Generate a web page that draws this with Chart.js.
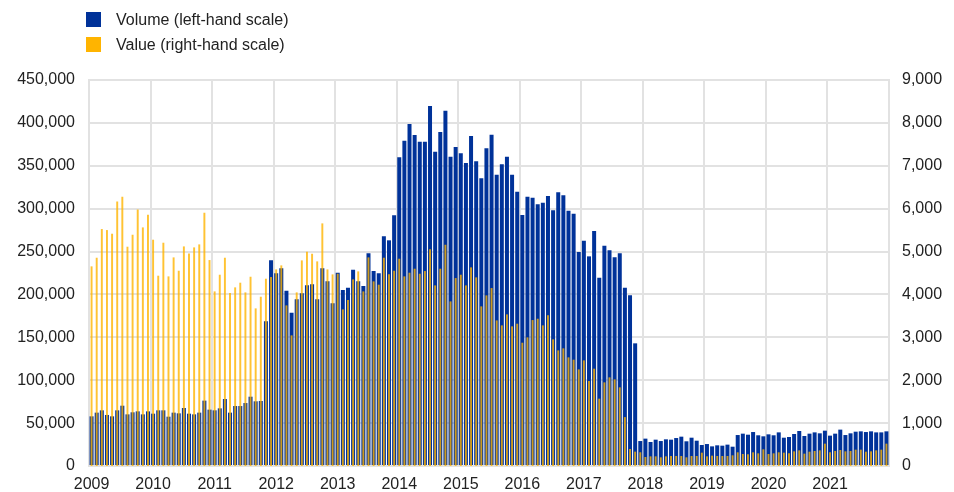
<!DOCTYPE html>
<html>
<head>
<meta charset="utf-8">
<script src="https://cdn.jsdelivr.net/npm/chart.js@4.4.0/dist/chart.umd.min.js"></script>
<style>
  body { margin: 0; background: #fff; font-family: "Liberation Sans", Arial, sans-serif; }
  #wrap { position: relative; width: 954px; height: 492px; }
  .legend { position: absolute; left: 86px; font-size: 16px; color: #222; line-height: 16px; }
  .legend span { display: inline-block; width: 15px; height: 15px; vertical-align: top; margin-right: 15px; }
</style>
</head>
<body>
<div id="wrap">
  <canvas id="chart"></canvas>
  <div class="legend" style="top:12px"><span style="background:#003299"></span>Volume (left-hand scale)</div>
  <div class="legend" style="top:37px"><span style="background:#ffb400"></span>Value (right-hand scale)</div>
</div>
<script>
// Monthly data, Jan 2009 - Dec 2021
const years = ['2009', '2010', '2011', '2012', '2013', '2014', '2015', '2016', '2017', '2018', '2019', '2020', '2021'];
const months = [];
years.forEach(y => { for (let m = 1; m <= 12; m++) months.push(y + '-' + String(m).padStart(2, '0')); });

// Volume, thousands (left-hand scale)
const volume = [
    57.9, 62.2, 64.9, 59.5, 57.9, 64.9, 70.3, 60.2, 62.6, 63.7, 60.2, 63.7,
    61.0, 64.9, 64.9, 57.5, 62.2, 61.4, 67.6, 61.0, 60.2, 62.2, 76.2, 65.7,
    64.9, 67.2, 78.1, 62.2, 69.9, 69.9, 73.4, 80.8, 75.4, 75.8, 168.7, 239.8,
    224.6, 230.4, 204.4, 178.8, 194.3, 201.3, 210.6, 211.8, 194.3, 230.4, 215.3, 189.6,
    225.4, 205.2, 207.9, 228.9, 215.3, 209.8, 247.9, 227.3, 224.6, 267.7, 263.1, 292.2,
    359.8, 379.3, 398.7, 385.9, 378.1, 378.1, 419.7, 366.4, 389.4, 414.2, 360.6, 371.9,
    364.5, 353.2, 384.7, 355.2, 335.4, 370.3, 386.3, 339.6, 351.7, 360.6, 339.6, 319.8,
    292.6, 314.0, 312.8, 305.1, 307.0, 314.8, 298.1, 319.0, 315.5, 297.7, 294.2, 249.5,
    262.7, 244.4, 274.0, 219.6, 256.9, 251.4, 243.3, 247.9, 207.9, 199.0, 143.0, 29.1,
    31.9, 28.0, 30.7, 29.1, 31.1, 30.7, 32.6, 34.2, 28.8, 33.0, 29.5, 24.5,
    25.6, 22.9, 24.1, 23.7, 24.9, 22.5, 36.1, 37.7, 36.5, 39.6, 35.8, 34.6,
    36.9, 35.8, 39.2, 33.0, 33.8, 37.3, 40.8, 35.0, 37.7, 39.2, 38.1, 41.2,
    35.4, 37.7, 42.4, 36.1, 38.1, 40.0, 40.4, 39.6, 40.4, 39.2, 39.2, 40.4
];

// Value (right-hand scale)
const value = [
    4655, 4856, 5525, 5501, 5416, 6169, 6278, 5113, 5392, 5983, 5563, 5859,
    5276, 4437, 5206, 4421, 4864, 4553, 5120, 4957, 5097, 5167, 5905, 4802,
    4071, 4460, 4856, 4033, 4165, 4274, 4048, 4413, 3675, 3947, 4367, 4406,
    4584, 4678, 3745, 3046, 4048, 4794, 4996, 4949, 4771, 5657, 4584, 4468,
    4483, 3652, 3869, 4351, 4538, 4071, 4864, 4305, 4227, 4856, 4468, 4553,
    4833, 4421, 4507, 4600, 4483, 4545, 5051, 4211, 4600, 5159, 3838, 4382,
    4460, 4211, 4631, 4398, 3722, 3978, 4149, 3395, 3279, 3535, 3256, 3318,
    2875, 2999, 3403, 3434, 3279, 3512, 2953, 2696, 2743, 2533, 2479, 2253,
    2463, 1981, 2269, 1570, 1950, 2067, 2020, 1834, 1140, 396, 335, 320,
    210, 225, 225, 202, 225, 233, 233, 233, 202, 233, 233, 311,
    225, 241, 233, 233, 233, 249, 319, 280, 272, 319, 295, 389,
    280, 295, 319, 311, 295, 342, 365, 288, 334, 350, 365, 521,
    319, 350, 373, 342, 350, 381, 381, 334, 342, 365, 381, 521
];

const gridColor = '#e2e2e2';
const tickFont = { family: '"Liberation Sans", Arial, sans-serif', size: 16 };

new Chart(document.getElementById('chart'), {
    type: 'bar',
    data: {
        labels: months,
        datasets: [{
            label: 'Volume (left-hand scale)',
            data: volume.map(v => v * 1000),
            backgroundColor: '#003299',
            yAxisID: 'y',
            grouped: false,
            categoryPercentage: 1,
            barPercentage: 0.78,
            order: 2
        }, {
            label: 'Value (right-hand scale)',
            data: value,
            backgroundColor: 'rgba(255, 180, 0, 0.8)',
            yAxisID: 'y1',
            grouped: false,
            categoryPercentage: 1,
            barPercentage: 0.38,
            order: 1
        }]
    },
    options: {
        responsive: true,
        maintainAspectRatio: false,
        animation: false,
        layout: { padding: { top: 80, left: 0, right: 0, bottom: 0 } },
        plugins: {
            legend: { display: false },
            tooltip: { enabled: false }
        },
        scales: {
            x: {
                afterFit: s => { s.height = 26; },
                grid: {
                    offset: true,
                    drawTicks: false,
                    lineWidth: 2,
                    color: c => (c.index === undefined || c.index % 12 === 0) ? gridColor : 'rgba(0,0,0,0)'
                },
                border: { color: gridColor, width: 2 },
                ticks: {
                    autoSkip: false,
                    maxRotation: 0,
                    padding: 9,
                    color: '#222',
                    font: tickFont,
                    callback: (v, i) => i % 12 === 0 ? years[i / 12] : ''
                }
            },
            y: {
                position: 'left',
                min: 0,
                max: 450000,
                afterFit: s => { s.width = 89; },
                grid: { color: gridColor, lineWidth: 2, drawTicks: false },
                border: { color: gridColor, width: 2 },
                ticks: {
                    stepSize: 50000,
                    padding: 14,
                    color: '#222',
                    font: tickFont,
                    callback: v => v.toLocaleString('en-US')
                }
            },
            y1: {
                position: 'right',
                min: 0,
                max: 9000,
                afterFit: s => { s.width = 65; },
                grid: { display: false, drawTicks: false },
                border: { color: gridColor, width: 2 },
                ticks: {
                    stepSize: 1000,
                    padding: 13,
                    color: '#222',
                    font: tickFont,
                    callback: v => v.toLocaleString('en-US')
                }
            }
        }
    }
});
</script>
</body>
</html>
